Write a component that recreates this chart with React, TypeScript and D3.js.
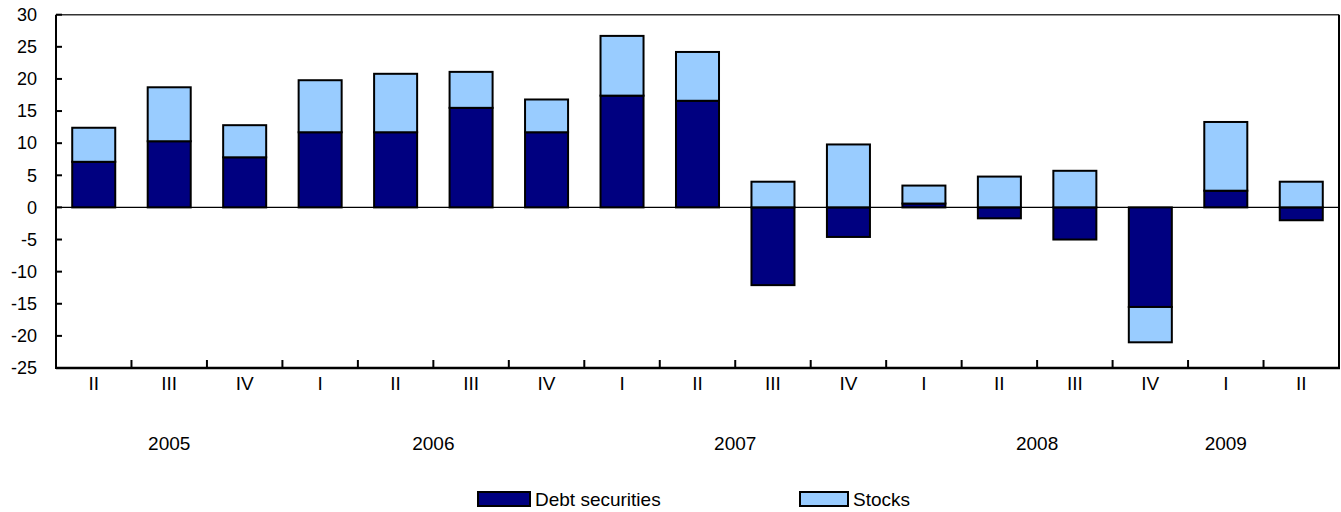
import React from "react";
import * as d3 from "d3";

const quarters = ["II", "III", "IV", "I", "II", "III", "IV", "I", "II", "III", "IV", "I", "II", "III", "IV", "I", "II"];
const debtSecurities = [7.1, 10.3, 7.8, 11.7, 11.7, 15.5, 11.7, 17.4, 16.6, -12.1, -4.6, 0.6, -1.7, -5.0, -15.5, 2.6, -2.0];
const stocks = [5.3, 8.4, 5.0, 8.1, 9.1, 5.6, 5.1, 9.3, 7.6, 4.0, 9.8, 2.8, 4.8, 5.7, -5.5, 10.7, 4.0];
const yTicks = [30, 25, 20, 15, 10, 5, 0, -5, -10, -15, -20, -25];
const yearGroups = [
  { label: "2005", first: 0, last: 2 },
  { label: "2006", first: 3, last: 6 },
  { label: "2007", first: 7, last: 10 },
  { label: "2008", first: 11, last: 14 },
  { label: "2009", first: 15, last: 15 },
];
const seriesNames = ["Debt securities", "Stocks"];
const seriesColors = ["#000080", "#99CCFF"];

const W = 1341;
const H = 512;
const left = 56;
const right = 1339;
const top = 14.7;
const bottom = 368;
const FONT = "'Liberation Sans', Arial, Helvetica, sans-serif";

export default function App() {
  const idx = quarters.map((_, i) => i);
  const x = d3.scaleBand<number>().domain(idx).range([left, right]).paddingInner(0.43).paddingOuter(0.215);
  const xb = d3.scaleBand<number>().domain(idx).range([left, right]).padding(0);
  const y = d3.scaleLinear().domain([-25, 30]).range([bottom, top]);

  const rows = idx.map((i) => ({ debt: debtSecurities[i], stocks: stocks[i] }));
  const stack = d3.stack<any>().keys(["debt", "stocks"]).offset(d3.stackOffsetDiverging);
  const layers = stack(rows);

  const center = (i: number) => (xb(i) as number) + xb.bandwidth() / 2;

  return (
    <svg width={W} height={H} style={{ position: "absolute", left: 0, top: 0, background: "#fff" }} fontFamily={FONT}>
      <rect x={0} y={0} width={W} height={H} fill="#fff" />
      <line x1={left} x2={right} y1={top} y2={top} stroke="#333" strokeWidth={1.5} />
      <line x1={right} x2={right} y1={top} y2={bottom} stroke="#000" strokeWidth={2} />
      {layers.map((layer, li) => (
        <g key={li}>
          {layer.map((d, i) => {
            const y0 = y(d[0]);
            const y1 = y(d[1]);
            return (
              <rect
                key={i}
                x={x(i)}
                width={x.bandwidth()}
                y={Math.min(y0, y1)}
                height={Math.abs(y1 - y0)}
                fill={seriesColors[li]}
                stroke="#000"
                strokeWidth={2}
              />
            );
          })}
        </g>
      ))}
      <line x1={left} x2={right} y1={y(0)} y2={y(0)} stroke="#000" strokeWidth={1.2} />
      <line x1={left} x2={left} y1={top} y2={bottom + 1} stroke="#000" strokeWidth={2} />
      {yTicks.map((t) => (
        <line key={t} x1={left} x2={left + 6} y1={y(t)} y2={y(t)} stroke="#000" strokeWidth={2} />
      ))}
      <line x1={left} x2={right + 1} y1={bottom} y2={bottom} stroke="#000" strokeWidth={2.5} />
      {idx.slice(1).map((i) => (
        <line key={i} x1={xb(i)} x2={xb(i)} y1={bottom} y2={bottom - 8} stroke="#000" strokeWidth={2} />
      ))}
      {yTicks.map((t) => (
        <text key={t} x={37} y={y(t)} dy="0.35em" textAnchor="end" fontSize={18} fill="#000">
          {t}
        </text>
      ))}
      {quarters.map((q, i) => (
        <text key={i} x={center(i)} y={383} dy="0.35em" textAnchor="middle" fontSize={19} fill="#000">
          {q}
        </text>
      ))}
      {yearGroups.map((g) => (
        <text
          key={g.label}
          x={(center(g.first) + center(g.last)) / 2}
          y={443}
          dy="0.35em"
          textAnchor="middle"
          fontSize={19}
          fill="#000"
        >
          {g.label}
        </text>
      ))}
      {[{ bx: 478, tx: 535 }, { bx: 800, tx: 853 }].map((p, i) => (
        <g key={i}>
          <rect x={p.bx} y={492} width={p.tx - p.bx - 5} height={14} fill={seriesColors[i]} stroke="#000" strokeWidth={2} />
          <text x={p.tx} y={499} dy="0.35em" fontSize={19} fill="#000">
            {seriesNames[i]}
          </text>
        </g>
      ))}
    </svg>
  );
}
